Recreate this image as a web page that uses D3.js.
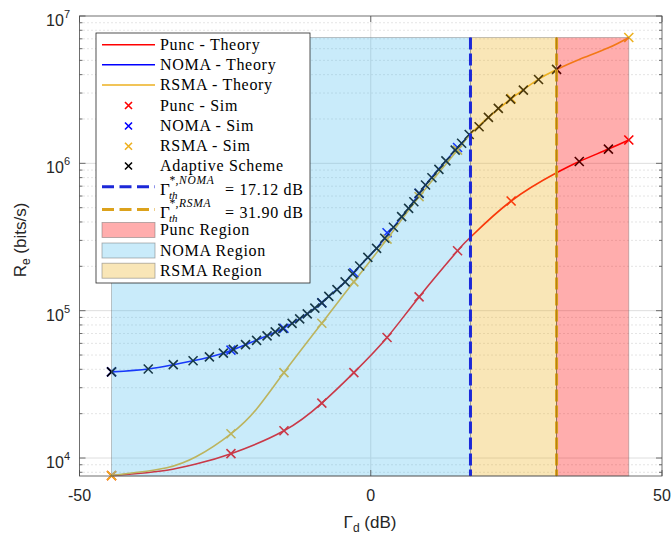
<!DOCTYPE html>
<html>
<head>
<meta charset="utf-8">
<script src="https://cdn.jsdelivr.net/npm/d3@7"></script>
<style>
    body { margin: 0; background: #fff; }
    text { font-family: "Liberation Sans", Arial, sans-serif; fill: #262626; }
    .leg text { font-family: "Liberation Serif", serif; fill: #000; }
</style>
</head>
<body>
<svg id="chart" width="671" height="537"></svg>
<script>
// ---- data (Gamma_d in dB, rate in bits/s) ----
const puncX = [-44.5, -40, -35, -30, -24, -14.9, -8.4, -2.9, 2.8, 8.3, 14.9, 17.12, 24.1, 31.9, 35.8, 40.8, 44.3];
const puncTheory = [7.6e3, 7.85e3, 8.25e3, 9.1e3, 1.07e4, 1.53e4, 2.36e4, 3.8e4, 6.58e4, 1.24e5, 2.55e5, 3.15e5, 5.55e5, 8.63e5, 1.03e6, 1.25e6, 1.44e6];

const nomaX = [-44.5, -38.2, -33.9, -30.5, -25.3, -21.5, -17.8, -15.1, -12.2, -9.6, -7.2, -4.4, -1.9, 1.0, 3.9, 6.5, 9.4, 12.9, 15.6, 17.12];
const nomaTheory = [3.84e4, 4.02e4, 4.3e4, 4.57e4, 5.15e4, 5.88e4, 6.75e4, 7.58e4, 8.8e4, 1.04e5, 1.25e5, 1.57e5, 2.01e5, 2.65e5, 3.68e5, 4.95e5, 7.13e5, 1.04e6, 1.37e6, 1.58e6];

const rsmaX = [-44.5, -40, -35, -30, -24, -19.6, -14.9, -8.4, -2.9, 2.8, 8.3, 14.9, 17.12, 20.18, 24.03, 28.76, 31.92, 35.8, 40.8, 44.3];
const rsmaTheory = [7.6e3, 8.0e3, 8.6e3, 1.02e4, 1.46e4, 2.15e4, 3.8e4, 8.22e4, 1.57e5, 3.06e5, 5.94e5, 1.23e6, 1.58e6, 2.05e6, 2.73e6, 3.71e6, 4.34e6, 5.07e6, 6.08e6, 7.15e6];

const simX = [-44.5, -24.0, -14.9, -8.4, -2.9, 2.8, 8.3, 14.9, 24.1, 44.3];
const puncSim = [7.6e3, 1.07e4, 1.53e4, 2.36e4, 3.8e4, 6.58e4, 1.24e5, 2.55e5, 5.55e5, 1.44e6];
const nomaSimX = [-44.5, -24.0, -14.9, -8.4, -2.9, 2.8, 8.3, 14.9];
const nomaSim = [3.84e4, 5.4e4, 7.6e4, 1.13e5, 1.81e5, 3.38e5, 6.25e5, 1.28e6];
const rsmaSim = [7.6e3, 1.46e4, 3.8e4, 8.22e4, 1.57e5, 3.06e5, 5.94e5, 1.23e6, 2.75e6, 7.15e6];

const adaptX = [-44.5, -38.2, -33.9, -30.5, -27.7, -25.3, -23.6, -21.5, -19.6, -17.8, -16.4, -15.1, -13.5, -12.2, -10.9, -9.6,
    -8.4, -7.2, -5.8, -4.4, -3.1, -1.9, -0.5, 1.0, 2.4, 3.9, 5.3, 6.5, 7.4, 8.3, 9.4, 10.5, 11.7, 12.9, 14.5, 15.6, 16.9,
    18.6, 20.2, 21.9, 24.0, 26.2, 28.8, 31.9, 35.8, 40.8];
const adaptY = [3.84e4, 4.02e4, 4.3e4, 4.57e4, 4.86e4, 5.15e4, 5.46e4, 5.88e4, 6.29e4, 6.75e4, 7.18e4, 7.58e4, 8.2e4, 8.8e4, 9.51e4, 1.04e5,
    1.13e5, 1.25e5, 1.39e5, 1.57e5, 1.78e5, 2.01e5, 2.3e5, 2.65e5, 3.1e5, 3.68e5, 4.35e5, 4.95e5, 5.49e5, 6.27e5, 7.13e5, 7.99e5, 9.1e5, 1.04e6, 1.23e6, 1.37e6, 1.57e6,
    1.77e6, 2.05e6, 2.36e6, 2.73e6, 3.14e6, 3.71e6, 4.34e6, 1.03e6, 1.25e6];

const thNoma = 17.12;
const thRsma = 31.90;
const regionStart = -44.5;
const regionEnd = 44.3;
const regionTop = 7.15e6;

const xTicks = [-50, 0, 50];
const yMajor = [1e4, 1e5, 1e6, 1e7];

// ---- scales ----
const svg = d3.select('#chart');
const x = d3.scaleLinear().domain([-50, 50]).range([79.5, 662]);
const y = d3.scaleLog().domain([7.55e3, 1e7]).range([476, 16]);
const [x0, x1] = x.range();
const [y0, y1] = y.range();

const C = {punc: '#ff0000', noma: '#0000ff', rsma: '#EDB120', adapt: '#000000'};

// ---- grid ----
const grid = svg.append('g');
grid.selectAll('.minor')
    .data(y.ticks().filter(t => !yMajor.includes(t)))
    .join('line')
    .attr('x1', x0).attr('x2', x1)
    .attr('y1', d => y(d)).attr('y2', d => y(d))
    .attr('stroke', '#bdbdbd').attr('stroke-width', 0.8)
    .attr('stroke-dasharray', '1,3');
grid.selectAll('.major')
    .data(yMajor.slice(0, 3))
    .join('line')
    .attr('x1', x0).attr('x2', x1)
    .attr('y1', d => y(d)).attr('y2', d => y(d))
    .attr('stroke', '#dedede').attr('stroke-width', 1);
grid.append('line')
    .attr('x1', x(0)).attr('x2', x(0)).attr('y1', y0).attr('y2', y1)
    .attr('stroke', '#dedede').attr('stroke-width', 1);

// ---- theory curves ----
const line = d3.line().x(d => x(d[0])).y(d => y(d[1])).curve(d3.curveNatural);
const curves = [
    [puncX, puncTheory, C.punc],
    [nomaX, nomaTheory, C.noma],
    [rsmaX, rsmaTheory, C.rsma]
];
curves.forEach(([xs, ys, col]) => {
    svg.append('path')
        .datum(xs.map((v, i) => [v, ys[i]]))
        .attr('d', line)
        .attr('fill', 'none')
        .attr('stroke', col)
        .attr('stroke-width', 1.6);
});

// ---- sim markers ----
const cross = 'M-4.5,-4.5L4.5,4.5M-4.5,4.5L4.5,-4.5';
function markers(xs, ys, col) {
    svg.append('g').selectAll('path')
        .data(xs.map((v, i) => [v, ys[i]]))
        .join('path')
        .attr('transform', d => `translate(${x(d[0])},${y(d[1])})`)
        .attr('d', cross)
        .attr('stroke', col)
        .attr('stroke-width', 1.6)
        .attr('fill', 'none');
}
markers(simX, puncSim, C.punc);
markers(nomaSimX, nomaSim, C.noma);
markers(simX, rsmaSim, C.rsma);
markers(adaptX, adaptY, C.adapt);

// ---- regions (semi transparent, over the curves) ----
const regions = [
    [regionStart, thNoma, 'rgb(77,190,238)', 0.3],
    [thNoma, thRsma, 'rgb(237,177,32)', 0.32],
    [thRsma, regionEnd, 'rgb(255,0,0)', 0.32]
];
svg.append('g').selectAll('rect')
    .data(regions)
    .join('rect')
    .attr('x', d => x(d[0]))
    .attr('y', y(regionTop))
    .attr('width', d => x(d[1]) - x(d[0]))
    .attr('height', y0 - y(regionTop))
    .attr('fill', d => d[2])
    .attr('fill-opacity', d => d[3])
    .attr('stroke', '#707070')
    .attr('stroke-opacity', 0.5)
    .attr('stroke-width', 0.8);

// threshold lines
svg.append('line')
    .attr('x1', x(thNoma)).attr('x2', x(thNoma))
    .attr('y1', y(regionTop)).attr('y2', y0)
    .attr('stroke', '#1c28d8').attr('stroke-width', 3)
    .attr('stroke-dasharray', '12,4');
svg.append('line')
    .attr('x1', x(thRsma)).attr('x2', x(thRsma))
    .attr('y1', y(regionTop)).attr('y2', y0)
    .attr('stroke', '#dca21c').attr('stroke-width', 3)
    .attr('stroke-dasharray', '12,4');
svg.append('line')
    .attr('x1', x(thRsma)).attr('x2', x(thRsma))
    .attr('y1', y(regionTop)).attr('y2', y0)
    .attr('stroke', '#6b4a10').attr('stroke-opacity', 0.5).attr('stroke-width', 0.8);

// ---- axes box + ticks ----
const ax = svg.append('g');
ax.append('rect')
    .attr('x', x0).attr('y', y1)
    .attr('width', x1 - x0).attr('height', y0 - y1)
    .attr('fill', 'none').attr('stroke', '#4d4d4d').attr('stroke-width', 0.8);

const yt = y.ticks().map(t => [t, yMajor.includes(t) ? 6 : 3]);
ax.selectAll('.yl')
    .data(yt).join('line')
    .attr('x1', x0).attr('x2', d => x0 + d[1])
    .attr('y1', d => y(d[0])).attr('y2', d => y(d[0]))
    .attr('stroke', '#4d4d4d').attr('stroke-width', 0.8);
ax.selectAll('.yr')
    .data(yt).join('line')
    .attr('x1', x1).attr('x2', d => x1 - d[1])
    .attr('y1', d => y(d[0])).attr('y2', d => y(d[0]))
    .attr('stroke', '#4d4d4d').attr('stroke-width', 0.8);
ax.selectAll('.xb')
    .data(xTicks).join('line')
    .attr('x1', d => x(d)).attr('x2', d => x(d))
    .attr('y1', y0).attr('y2', y0 - 6)
    .attr('stroke', '#4d4d4d').attr('stroke-width', 0.8);
ax.selectAll('.xt')
    .data(xTicks).join('line')
    .attr('x1', d => x(d)).attr('x2', d => x(d))
    .attr('y1', y1).attr('y2', y1 + 6)
    .attr('stroke', '#4d4d4d').attr('stroke-width', 0.8);

ax.selectAll('.xlab')
    .data(xTicks).join('text')
    .attr('x', d => x(d)).attr('y', 501)
    .attr('text-anchor', 'middle')
    .attr('font-size', 16)
    .text(d => d);

const ylab = ax.selectAll('.ylab')
    .data(yMajor).join('text')
    .attr('x', 70).attr('y', d => y(d) + 10)
    .attr('text-anchor', 'end')
    .attr('font-size', 16);
ylab.append('tspan').text('10');
ylab.append('tspan').attr('font-size', 11).attr('dy', -8).text(d => Math.round(Math.log10(d)));

const xl = ax.append('text')
    .attr('x', 370).attr('y', 528)
    .attr('text-anchor', 'middle')
    .attr('font-size', 17);
xl.append('tspan').text('Γ');
xl.append('tspan').attr('font-size', 12).attr('dy', 4).text('d');
xl.append('tspan').attr('dy', -4).text(' (dB)');

const yl = ax.append('text')
    .attr('transform', 'translate(26,240) rotate(-90)')
    .attr('text-anchor', 'middle')
    .attr('font-size', 17);
yl.append('tspan').text('R');
yl.append('tspan').attr('font-size', 12).attr('dy', 4).text('e');
yl.append('tspan').attr('dy', -4).text(' (bits/s)');

// ---- legend ----
const leg = svg.append('g').attr('class', 'leg');
leg.append('rect')
    .attr('x', 96).attr('y', 33).attr('width', 214).attr('height', 250)
    .attr('fill', '#fff').attr('stroke', '#262626').attr('stroke-width', 0.8);

const lx0 = 102, lx1 = 155, tx = 160;
const items = [
    {kind: 'line', col: C.punc, label: 'Punc - Theory', cy: 44.7},
    {kind: 'line', col: C.noma, label: 'NOMA - Theory', cy: 64.8},
    {kind: 'line', col: C.rsma, label: 'RSMA - Theory', cy: 85},
    {kind: 'mark', col: C.punc, label: 'Punc - Sim', cy: 105.5},
    {kind: 'mark', col: C.noma, label: 'NOMA - Sim', cy: 126},
    {kind: 'mark', col: C.rsma, label: 'RSMA - Sim', cy: 146.3},
    {kind: 'mark', col: C.adapt, label: 'Adaptive Scheme', cy: 166},
    {kind: 'dash', col: '#1c28d8', sup: '*,NOMA', val: '= 17.12 dB', cy: 186.7},
    {kind: 'dash', col: '#dca21c', sup: '*,RSMA', val: '= 31.90 dB', cy: 209.5},
    {kind: 'patch', col: 'rgb(255,0,0)', op: 0.32, label: 'Punc Region', cy: 230},
    {kind: 'patch', col: 'rgb(77,190,238)', op: 0.3, label: 'NOMA Region', cy: 250.5},
    {kind: 'patch', col: 'rgb(237,177,32)', op: 0.32, label: 'RSMA Region', cy: 270.7}
];

items.forEach(it => {
    const g = leg.append('g');
    if (it.kind === 'line' || it.kind === 'dash') {
        g.append('line')
            .attr('x1', lx0).attr('x2', lx1).attr('y1', it.cy).attr('y2', it.cy)
            .attr('stroke', it.col)
            .attr('stroke-width', it.kind === 'dash' ? 3 : 1.6)
            .attr('stroke-dasharray', it.kind === 'dash' ? '12,5.5' : null);
    } else if (it.kind === 'mark') {
        g.append('path')
            .attr('transform', `translate(${(lx0 + lx1) / 2},${it.cy})`)
            .attr('d', 'M-3.5,-3.5L3.5,3.5M-3.5,3.5L3.5,-3.5')
            .attr('stroke', it.col).attr('stroke-width', 1.6).attr('fill', 'none');
    } else {
        g.append('rect')
            .attr('x', lx0).attr('y', it.cy - 7.5).attr('width', lx1 - lx0).attr('height', 15)
            .attr('fill', it.col).attr('fill-opacity', it.op)
            .attr('stroke', '#707070').attr('stroke-opacity', 0.6).attr('stroke-width', 0.8);
    }
    if (it.kind === 'dash') {
        // Gamma with stacked superscript / subscript
        g.append('text').attr('x', tx).attr('y', it.cy + 8.3).attr('font-size', 17).text('Γ');
        g.append('text').attr('x', 169).attr('y', it.cy - 3)
            .attr('font-size', 11.5).attr('font-style', 'italic').attr('letter-spacing', 0.7).text(it.sup);
        g.append('text').attr('x', 169).attr('y', it.cy + 12.5)
            .attr('font-size', 11).attr('font-style', 'italic').text('th');
        g.append('text').attr('x', 225).attr('y', it.cy + 8.3)
            .attr('font-size', 16).attr('letter-spacing', 0.7).text(it.val);
    } else {
        g.append('text').attr('x', tx).attr('y', it.cy + 5)
            .attr('font-size', 16).attr('letter-spacing', 0.7).text(it.label);
    }
});
</script>
</body>
</html>
